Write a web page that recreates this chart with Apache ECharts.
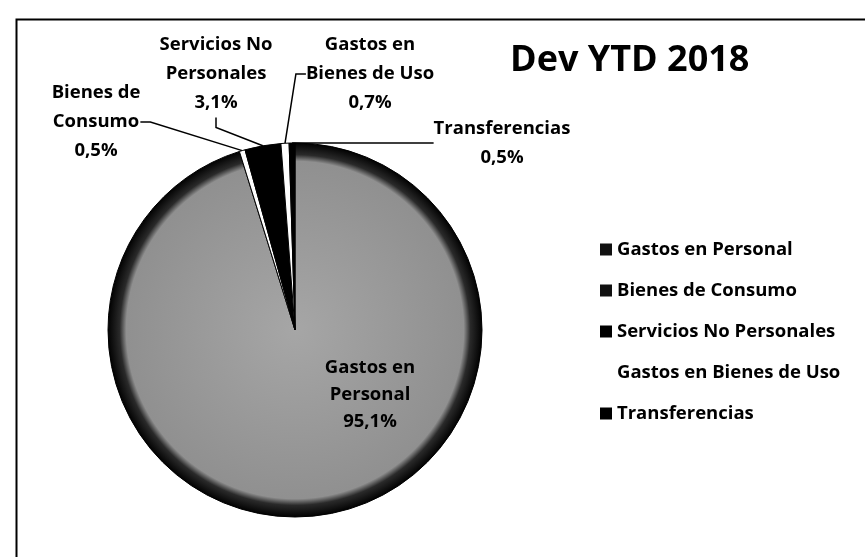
<!DOCTYPE html>
<html>
<head>
<meta charset="utf-8">
<title>Dev YTD 2018</title>
<script src="https://cdn.jsdelivr.net/npm/echarts@6/dist/echarts.min.js"></script>
<style>
  html, body { margin: 0; padding: 0; background: #fff; }
  #chart { width: 865px; height: 557px; }
</style>
</head>
<body>
<div id="chart"></div>
<script>
// datos del grafico
var categories = ['Gastos en Personal', 'Bienes de Consumo', 'Servicios No Personales', 'Gastos en Bienes de Uso', 'Transferencias'];
var labelNames = ['Gastos en\nPersonal', 'Bienes de\nConsumo', 'Servicios No\nPersonales', 'Gastos en\nBienes de Uso', 'Transferencias'];
var values = [95.1, 0.5, 3.1, 0.7, 0.5];

var FONT = '"Open Sans", "Liberation Sans", sans-serif';

// colores de las porciones (escaneo en blanco y negro)
var sliceColors = [
    {
        type: 'radial', x: 0.5, y: 0.5, r: 0.5,
        colorStops: [
            { offset: 0, color: '#a6a6a6' },
            { offset: 0.9, color: '#909090' },
            { offset: 0.935, color: '#2a2a2a' },
            { offset: 1, color: '#000' }
        ]
    },
    '#fff', '#000', '#fff', '#000'
];
var legendColors = ['#111', '#111', '#000', '#fff', '#000'];

// posicion de cada etiqueta (centro del bloque de texto)
var labelPos = [[370, 395], [96, 122], [216, 74], [370, 74], [502, 143]];

var chart = echarts.init(document.getElementById('chart'));

var pieData = [];
for (var i = 0; i < categories.length; i++) {
    var item = {
        name: categories[i],
        value: values[i],
        itemStyle: { color: sliceColors[i] }
    };
    if (i === 0) {
        item.label = { position: 'inside', lineHeight: 27 };
        item.labelLine = { show: false };
    }
    pieData.push(item);
}

var option = {
    animation: false,
    backgroundColor: '#fff',
    title: {
        text: 'Dev YTD 2018',
        left: 505,
        top: 38,
        textStyle: { fontFamily: FONT, fontSize: 36, fontWeight: 'bold', color: '#000' }
    },
    graphic: [{
        type: 'rect',
        left: 14,
        top: 17,
        silent: true,
        shape: { width: 880, height: 570 },
        style: { fill: 'none', stroke: '#000', lineWidth: 2 }
    }],
    legend: {
        orient: 'vertical',
        left: 595,
        top: 233,
        itemWidth: 12,
        itemHeight: 12,
        itemGap: 18,
        icon: 'rect',
        data: categories.map(function (c, idx) {
            return { name: c, itemStyle: { color: legendColors[idx], borderWidth: 0 } };
        }),
        textStyle: { fontFamily: FONT, fontSize: 18.5, fontWeight: 'bold', color: '#000', lineHeight: 23 }
    },
    series: [{
        type: 'pie',
        center: [295, 330],
        radius: 187,
        startAngle: 90,
        clockwise: true,
        data: pieData,
        itemStyle: { borderColor: '#000', borderWidth: 1 },
        emphasis: { disabled: true },
        label: {
            show: true,
            fontFamily: FONT,
            fontSize: 18.5,
            fontWeight: 'bold',
            color: '#000',
            lineHeight: 29,
            align: 'center',
            overflow: 'none',
            formatter: function (p) {
                return labelNames[p.dataIndex] + '\n' + p.value.toFixed(1).replace('.', ',') + '%';
            }
        },
        labelLine: {
            show: true,
            length: 10,
            length2: 10,
            lineStyle: { color: '#000', width: 1.5 }
        },
        labelLayout: function (params) {
            var pos = labelPos[params.dataIndex];
            return {
                x: pos[0],
                y: pos[1],
                align: 'center',
                verticalAlign: 'middle'
            };
        }
    }]
};

chart.setOption(option);
window.addEventListener('resize', function () {
    chart.resize();
});
</script>
</body>
</html>
